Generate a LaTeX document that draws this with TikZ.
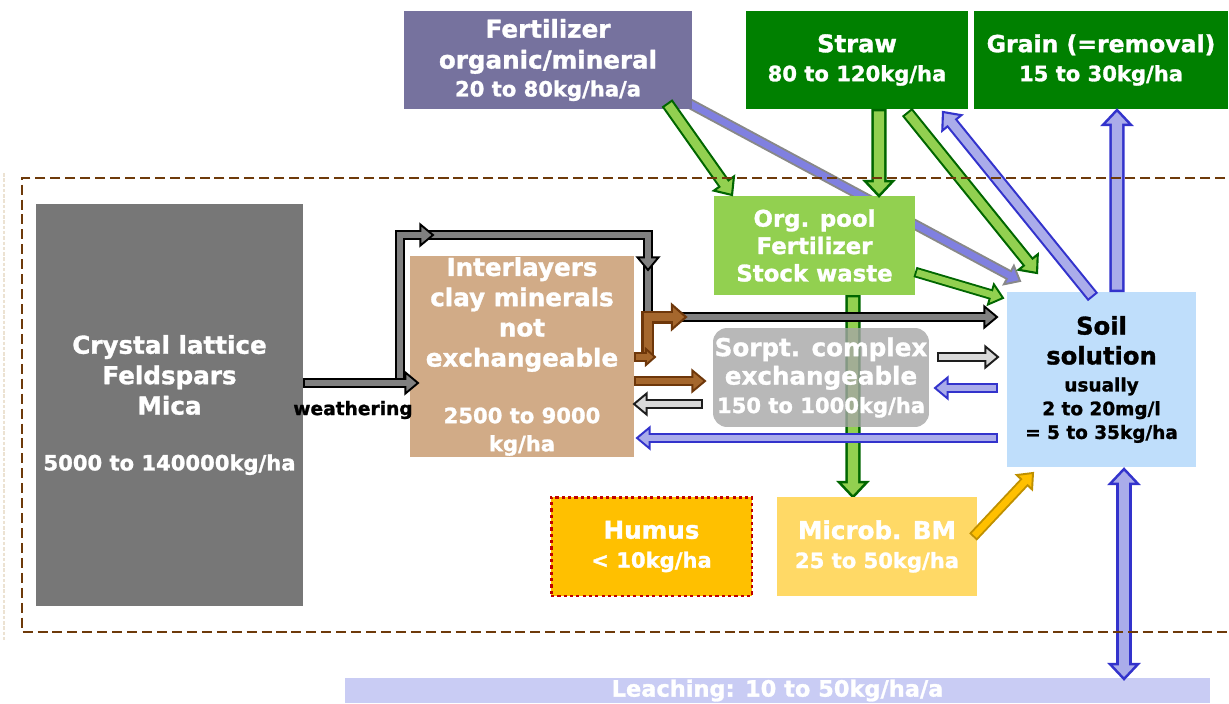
\documentclass[tikz,border=0pt]{standalone}
\usepackage{fontspec}
\setmainfont{DejaVu Sans}[BoldFeatures={FakeBold=1.3}]
\usetikzlibrary{calc,backgrounds}

\definecolor{cgray}{RGB}{119,119,119}
\definecolor{ctan}{RGB}{209,171,135}
\definecolor{cfert}{RGB}{118,114,158}
\definecolor{cdkgreen}{RGB}{0,128,0}
\definecolor{cltgreen}{RGB}{146,208,80}
\definecolor{csorpt}{RGB}{166,166,166}
\definecolor{csoil}{RGB}{191,222,251}
\definecolor{camber}{RGB}{255,192,0}
\definecolor{cyellow}{RGB}{255,217,102}
\definecolor{cleach}{RGB}{201,204,244}
\definecolor{cborder}{RGB}{110,58,10}
\definecolor{cred}{RGB}{192,0,0}
\definecolor{cfaint}{RGB}{236,226,210}
\definecolor{agreeno}{RGB}{0,102,0}
\definecolor{abluef}{RGB}{170,172,234}
\definecolor{ablueo}{RGB}{51,51,204}
\definecolor{aperif}{RGB}{128,128,224}
\definecolor{aperio}{RGB}{136,136,136}
\definecolor{agrayf}{RGB}{128,128,128}
\definecolor{alightf}{RGB}{217,217,217}
\definecolor{alighto}{RGB}{30,30,30}
\definecolor{abrownf}{RGB}{165,103,45}
\definecolor{abrowno}{RGB}{110,55,10}
\definecolor{ayellowo}{RGB}{191,144,0}

\newcommand\fs[2]{\fontsize{#1}{#2}\selectfont}

\tikzset{
  box/.style={rectangle, inner sep=0pt, outer sep=0pt, align=center, text=white},
}

% arrow type dimensions: outer shaft, inner shaft, head half width, head length,
% outer shortening, inner shortening, outline width
\def\bkAout{6pt}\def\bkAin{3.8pt}\def\bkAhw{6pt}\def\bkAlen{7.2pt}\def\bkAsh{6.1pt}\def\bkAshi{5.9pt}\def\bkAlw{1.1pt}
\def\bkGout{7.4pt}\def\bkGin{5pt}\def\bkGhw{7pt}\def\bkGlen{8pt}\def\bkGsh{6.8pt}\def\bkGshi{6.6pt}\def\bkGlw{1.2pt}
\def\bkVout{8.6pt}\def\bkVin{5.8pt}\def\bkVhw{8pt}\def\bkVlen{8.5pt}\def\bkVsh{7.1pt}\def\bkVshi{6.9pt}\def\bkVlw{1.4pt}
\def\bkSout{6pt}\def\bkSin{3.8pt}\def\bkShw{4.6pt}\def\bkSlen{5.2pt}\def\bkSsh{4.1pt}\def\bkSshi{3.9pt}\def\bkSlw{1.1pt}

\newcommand\bkload[1]{%
  \edef\bkout{\csname bk#1out\endcsname}\edef\bkin{\csname bk#1in\endcsname}%
  \edef\bkhw{\csname bk#1hw\endcsname}\edef\bklen{\csname bk#1len\endcsname}%
  \edef\bksh{\csname bk#1sh\endcsname}\edef\bkshi{\csname bk#1shi\endcsname}%
  \edef\bklw{\csname bk#1lw\endcsname}}

% block arrow: #1 type, #2 fill, #3 outline, #4 path prefix, #5 last bend/start, #6 end
\newcommand\blk[6]{%
  \bkload{#1}%
  \coordinate (bkF) at (#5);
  \coordinate (bkT) at (#6);
  \coordinate (bkB) at ($(bkT)!\bklen!(bkF)$);
  \draw[draw=#3, line join=miter, line width=\bkout, shorten >=\bksh] #4(bkF) -- (bkT);
  \filldraw[fill=#2, draw=#3, line width=\bklw, line join=miter]
    (bkT) -- ($(bkB)!\bkhw!90:(bkT)$) -- ($(bkB)!\bkhw!-90:(bkT)$) -- cycle;
  \draw[draw=#2, line join=miter, line width=\bkin, shorten <=\bklw, shorten >=\bkshi] #4(bkF) -- (bkT);
}
% double headed block arrow: #1 type, #2 fill, #3 outline, #4 start, #5 end
\newcommand\dblk[5]{%
  \bkload{#1}%
  \coordinate (bkF) at (#4);
  \coordinate (bkT) at (#5);
  \coordinate (bkB) at ($(bkT)!\bklen!(bkF)$);
  \coordinate (bkC) at ($(bkF)!\bklen!(bkT)$);
  \draw[draw=#3, line width=\bkout, shorten >=\bksh, shorten <=\bksh] (bkF) -- (bkT);
  \filldraw[fill=#2, draw=#3, line width=\bklw, line join=miter]
    (bkT) -- ($(bkB)!\bkhw!90:(bkT)$) -- ($(bkB)!\bkhw!-90:(bkT)$) -- cycle;
  \filldraw[fill=#2, draw=#3, line width=\bklw, line join=miter]
    (bkF) -- ($(bkC)!\bkhw!90:(bkF)$) -- ($(bkC)!\bkhw!-90:(bkF)$) -- cycle;
  \draw[draw=#2, line width=\bkin, shorten <=\bkshi, shorten >=\bkshi] (bkF) -- (bkT);
}

\begin{document}
\begin{tikzpicture}[x=0.02cm,y=-0.02cm]
\useasboundingbox (0,0) rectangle (1229,703);

% ---------- boxes ----------
\node[box, fill=cfert, minimum width=5.76cm, minimum height=1.96cm, font=\bfseries\fs{14}{17.6}] (fert) at (548,60)
  {Fertilizer\\organic/mineral\\[-1.7pt]{\fs{12}{15}20 to 80kg/ha/a}};
\node[box, fill=cdkgreen, minimum width=4.44cm, minimum height=1.96cm, font=\bfseries\fs{13.8}{16.5}] (straw) at (857,60)
  {Straw\\{\fs{12}{15}80 to 120kg/ha}};
\node[box, fill=cdkgreen, minimum width=5.08cm, minimum height=1.96cm, font=\bfseries\fs{13.4}{16.5}] (grain) at (1101,60)
  {Grain (=removal)\\{\fs{12}{15}15 to 30kg/ha}};
\node[box, fill=cltgreen, minimum width=4.02cm, minimum height=1.98cm, font=\bfseries\fs{13}{15.6}] (org) at (814.5,245.5)
  {Org. pool\\Fertilizer\\Stock waste};
\node[box, fill=csorpt, fill opacity=0.8, text opacity=1, rounded corners=8pt, minimum width=4.32cm, minimum height=1.98cm, font=\bfseries\fs{14}{16.2}] (sorpt) at (821,377.5)
  {Sorpt. complex\\exchangeable\\{\fs{12}{15}150 to 1000kg/ha}};
\node[box, fill=csoil, text=black, minimum width=3.78cm, minimum height=3.5cm, font=\bfseries\fs{10.5}{13.5}] (soil) at (1101.5,379.5)
  {{\fs{13.8}{16}Soil}\\[3.5pt]{\fs{13.8}{16}solution}\\[1.9pt]usually\\2 to 20mg/l\\= 5 to 35kg/ha};
\node[box, fill=camber, draw=cred, line width=1.7pt, dash pattern=on 1.8pt off 1.8pt, minimum width=4.02cm, minimum height=1.98cm, font=\bfseries\fs{14}{16.5}] (humus) at (651.5,546.5)
  {Humus\\{\fs{12}{15}< 10kg/ha}};
\node[box, fill=cyellow, minimum width=4.0cm, minimum height=1.98cm, font=\bfseries\fs{14}{16.5}] (microb) at (877,546.5)
  {Microb. BM\\{\fs{12}{15}25 to 50kg/ha}};
\node[box, fill=cgray, minimum width=5.34cm, minimum height=8.04cm, font=\bfseries\fs{14}{17.3}] (crystal) at (169.5,405)
  {Crystal lattice\\Feldspars\\Mica\\[14.5pt]{\fs{12}{15}5000 to 140000kg/ha}};
\node[box, fill=ctan, minimum width=4.48cm, minimum height=4.02cm, font=\bfseries\fs{14}{17.2}] (inter) at (522,356.5)
  {Interlayers\\clay minerals\\not\\exchangeable\\[15pt]{\fs{12}{15}2500 to 9000}\\[-1.2pt]{\fs{12}{15}kg/ha}};
\node[box, fill=cleach, minimum width=17.3cm, minimum height=0.5cm, font=\bfseries\fs{12.8}{15}] (leach) at (777.5,690.5)
  {Leaching: 10 to 50kg/ha/a};
\node[inner sep=0pt, font=\bfseries\fs{10.6}{12}] (wlabel) at (353,410) {weathering};

% ---------- arrows behind boxes ----------
\begin{pgfonlayer}{background}
  \blk{V}{cltgreen}{agreeno}{}{$(org.south)+(38.5,0)$}{$(microb.north)+(-24,0)$}
  \blk{A}{aperif}{aperio}{}{$(fert.south east)+(-9,-9)$}{$(soil.north west)+(13,-11)$}
\end{pgfonlayer}

% ---------- loop (gray) ----------
\coordinate (lpA) at (400,383);
\coordinate (lpB) at (400,235);
\coordinate (lpC) at (433,235);
\coordinate (lpD) at (648,235);
\coordinate (lpE) at (648,270);
\coordinate (lpF) at (648,317);
\blk{A}{agrayf}{black}{($(lpE)+(0,-8)$) -- }{lpF}{$(soil.west |- 0,317)+(-10,0)$}
\blk{A}{agrayf}{black}{($(lpC)+(-7,0)$) -- }{lpD}{lpE}
\blk{A}{agrayf}{black}{(lpA) -- }{lpB}{lpC}
\blk{A}{agrayf}{black}{}{crystal.east |- 0,383}{$(inter.west |- 0,383)+(8,0)$}

% ---------- brown ----------
\blk{G}{abrownf}{abrowno}{($(inter.east |- 0,357)+(14,0)$) -- }{$(inter.east |- 0,317)+(14,0)$}{$(inter.east |- 0,317)+(52,0)$}
\blk{S}{abrownf}{abrowno}{}{inter.east |- 0,357}{$(inter.east |- 0,357)+(21,0)$}
\blk{A}{abrownf}{abrowno}{}{inter.east |- 0,381}{$(sorpt.west |- 0,381)+(-8,0)$}

% ---------- horizontal arrows ----------
\blk{A}{alightf}{alighto}{}{$(sorpt.west |- 0,404)+(-10,0)$}{inter.east |- 0,404}
\blk{A}{alightf}{alighto}{}{$(sorpt.east |- 0,357)+(8,0)$}{$(soil.west |- 0,357)+(-9,0)$}
\blk{A}{abluef}{ablueo}{}{$(soil.west |- 0,388)+(-9,0)$}{$(sorpt.east |- 0,388)+(6,0)$}
\blk{A}{abluef}{ablueo}{}{$(soil.west |- 0,438)+(-9,0)$}{$(inter.east |- 0,438)+(3,0)$}

% ---------- top arrows ----------
\blk{G}{cltgreen}{agreeno}{}{$(fert.south east)+(-25,-6)$}{$(org.north west)+(18,-1)$}
\blk{V}{cltgreen}{agreeno}{}{$(straw.south)+(22,0)$}{$(org.north)+(64.5,0)$}
\blk{G}{cltgreen}{agreeno}{}{$(straw.south)+(50,3)$}{$(soil.north west)+(30,-19)$}
\blk{A}{cltgreen}{agreeno}{}{$(org.east)+(0,26.5)$}{$(soil.north west)+(-4,6)$}
\blk{G}{abluef}{ablueo}{}{$(soil.north west)+(86,5)$}{$(straw.south east)+(-25,3)$}
\blk{V}{abluef}{ablueo}{}{$(soil.north)+(15.5,0)$}{$(grain.south)+(16,1)$}

% ---------- bottom arrows ----------
\blk{A}{camber}{ayellowo}{}{$(microb.east)+(-4,-9.5)$}{$(soil.south west)+(26,6)$}
\dblk{V}{abluef}{ablueo}{$(soil.south)+(22.5,2)$}{$(soil.south |- leach.north)+(22.5,1)$}

% ---------- dashed soil border ----------
\draw[cborder, line width=1.4pt, dash pattern=on 5.7pt off 2.8pt] (1240,178) -- (22,178) -- (22,632) -- (1240,632);
\draw[cfaint, line width=0.8pt, dash pattern=on 2pt off 1pt] (4,173) -- (4,640);
\end{tikzpicture}
\end{document}
